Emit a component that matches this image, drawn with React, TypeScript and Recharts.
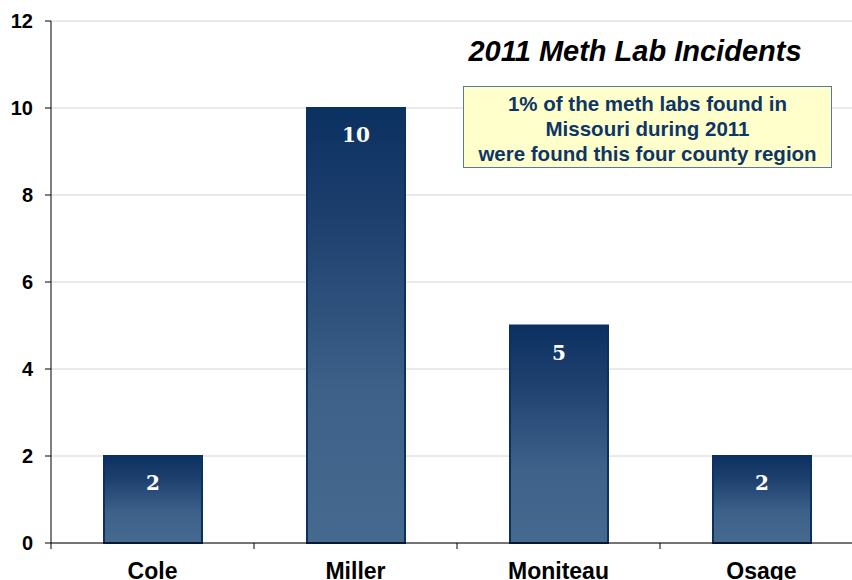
import React from 'react';
import { BarChart, Bar, XAxis, YAxis, CartesianGrid, LabelList } from 'recharts';

const counties = ['Cole', 'Miller', 'Moniteau', 'Osage'];
const incidents = [2, 10, 5, 2];
const yTicks = [0, 2, 4, 6, 8, 10, 12];

const data = counties.map((name, i) => ({ name, value: incidents[i] }));

const BAND = 203;

const CountyTick = (props: any) => {
  const { x, y, payload, index } = props;
  const axisY = y - 8;
  const left = x - BAND / 2;
  return (
    <g>
      <line x1={left} y1={axisY} x2={left} y2={axisY + 6} stroke="#000" strokeWidth={1} />
      {index === counties.length - 1 && (
        <line x1={left + BAND} y1={axisY} x2={left + BAND} y2={axisY + 6} stroke="#000" />
      )}
      <text
        x={x}
        y={axisY + 36}
        textAnchor="middle"
        fontFamily="'Liberation Sans', Arial, sans-serif"
        fontWeight="bold"
        fontSize={23}
        fill="#000"
      >
        {payload.value}
      </text>
    </g>
  );
};

const App: React.FC = () => {
  return (
    <div style={{ position: 'absolute', left: 0, top: 0, width: 852, height: 580, overflow: 'hidden', background: '#fff' }}>
      <BarChart
        width={863}
        height={580}
        data={data}
        margin={{ top: 21, right: 0, bottom: 0, left: 0 }}
        barSize={98}
      >
        <defs>
          <linearGradient id="barFill" x1="0" y1="0" x2="0" y2="1">
            <stop offset="0%" stopColor="#0b3161" />
            <stop offset="25%" stopColor="#1d3f6e" />
            <stop offset="65%" stopColor="#3d6189" />
            <stop offset="100%" stopColor="#46698f" />
          </linearGradient>
        </defs>
        <CartesianGrid vertical={false} stroke="#d4d4d4" />
        <XAxis
          dataKey="name"
          height={37}
          axisLine={{ stroke: '#000' }}
          tickLine={false}
          tick={<CountyTick />}
          interval={0}
        />
        <YAxis
          width={51}
          domain={[0, 12]}
          ticks={yTicks}
          interval={0}
          axisLine={{ stroke: '#000' }}
          tickLine={{ stroke: '#000' }}
          tickSize={6}
          tickMargin={12}
          tick={{ fontFamily: "'Liberation Sans', Arial, sans-serif", fontWeight: 'bold', fontSize: 20, fill: '#000' }}
        />
        <Bar dataKey="value" fill="url(#barFill)" stroke="#0b3161" strokeWidth={2} isAnimationActive={false}>
          <LabelList
            dataKey="value"
            position="insideTop"
            offset={20}
            fill="#fff"
            fontFamily="'DejaVu Serif', 'Liberation Serif', serif"
            fontWeight="bold"
            fontSize={20}
          />
        </Bar>
      </BarChart>
      <div
        style={{
          position: 'absolute',
          left: 435,
          top: 33,
          width: 400,
          textAlign: 'center',
          fontFamily: "'Liberation Sans', Arial, sans-serif",
          fontWeight: 'bold',
          fontStyle: 'italic',
          fontSize: 29,
          lineHeight: '36px',
          color: '#000',
        }}
      >
        2011 Meth Lab Incidents
      </div>
      <div
        style={{
          position: 'absolute',
          left: 463,
          top: 86,
          width: 369,
          height: 82,
          boxSizing: 'border-box',
          background: '#ffffcc',
          border: '1px solid #5a78a0',
          textAlign: 'center',
          fontFamily: "'Liberation Sans', Arial, sans-serif",
          fontWeight: 'bold',
          fontSize: 20.5,
          lineHeight: '25px',
          color: '#0d3566',
          paddingTop: 4,
          whiteSpace: 'nowrap',
        }}
      >
        1% of the meth labs found in
        <br />
        Missouri during 2011
        <br />
        were found this four county region
      </div>
    </div>
  );
};

export default App;
